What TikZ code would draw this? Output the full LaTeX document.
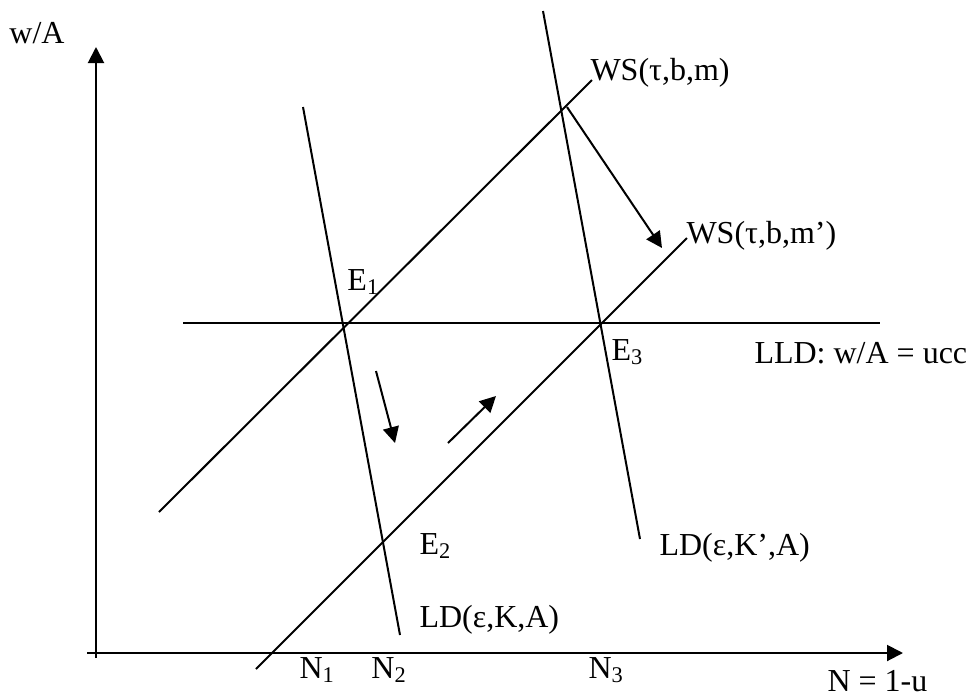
\documentclass[tikz,border=0pt]{standalone}
\usepackage{fontspec}
\setmainfont{Liberation Serif}
\usetikzlibrary{arrows.meta, positioning}

\begin{document}
\begin{tikzpicture}[
    x=0.4pt, y=-0.4pt,
    >={Triangle[length=6.4pt, width=6.4pt]},
    %% ── line styles ──────────────────────────────────────────────────────────
    curve/.style={draw=black, line width=0.8pt},
    axis/.style={->, draw=black, line width=0.8pt},
    move/.style={->, draw=black, line width=0.8pt},
    %% ── label styles ─────────────────────────────────────────────────────────
    lbl/.style={anchor=west, inner sep=0pt,
        font=\fontsize{12.8}{15}\selectfont},
]
\useasboundingbox (0,0) rectangle (969,696);

%% ── Axes ─────────────────────────────────────────────────────────────────────
\coordinate (origin) at (96,658);
\coordinate (ytip)   at (96,47);
\coordinate (xfrom)  at (87,653);
\coordinate (xtip)   at (903,653);
\draw[axis] (origin) -- (ytip);
\draw[axis] (xfrom) -- (xtip);
\node[lbl, anchor=center] (ylab) at (37,33) {w/A};
\node[lbl] (xlab) at (827,681) {N = 1-u};

%% ── Labour demand curves ─────────────────────────────────────────────────────
\coordinate (ldatop) at (303,107);
\coordinate (ldabot) at (400,635);
\coordinate (ldbtop) at (543,11);
\coordinate (ldbbot) at (640,539);
\draw[curve] (ldatop) -- (ldabot);
\draw[curve] (ldbtop) -- (ldbbot);
\node[lbl] (ldalab) at (419,620) {LD(ε,K,A)};
\node[lbl] (ldblab) at (659,548) {LD(ε,K’,A)};

%% ── Wage setting curves ──────────────────────────────────────────────────────
\coordinate (wsabot) at (159,512);
\coordinate (wsatop) at (592,80);
\coordinate (wsbbot) at (256,669);
\coordinate (wsbtop) at (687,238);
\draw[curve] (wsabot) -- (wsatop);
\draw[curve] (wsbbot) -- (wsbtop);
\node[lbl] (wsalab) at (590,73)  {WS(τ,b,m)};
\node[lbl] (wsblab) at (686,236) {WS(τ,b,m’)};

%% ── Long-run labour demand ───────────────────────────────────────────────────
\coordinate (lldl) at (183,323);
\coordinate (lldr) at (880,323);
\draw[curve] (lldl) -- (lldr);
\node[lbl] (lldlab) at (754,353) {LLD: w/A = ucc};

%% ── Equilibria and employment levels ─────────────────────────────────────────
\node[lbl] (E1) at (347,282) {E\textsubscript{1}};
\node[lbl] (E2) at (419,546) {E\textsubscript{2}};
\node[lbl] (E3) at (611,352) {E\textsubscript{3}};
\node[lbl] (N1) at (299,670) {N\textsubscript{1}};
\node[lbl] (N2) at (371,670) {N\textsubscript{2}};
\node[lbl] (N3) at (588,670) {N\textsubscript{3}};

%% ── Adjustment arrows ────────────────────────────────────────────────────────
\coordinate (wsshift) at (567,107);
\coordinate (wsend)   at (662,248);
\draw[move] (wsshift) -- (wsend);

\coordinate (downa) at (376,371);
\coordinate (downb) at (395,443);
\draw[move] (downa) -- (downb);

\coordinate (upa) at (448,443);
\coordinate (upb) at (496,396);
\draw[move] (upa) -- (upb);

\end{tikzpicture}
\end{document}
